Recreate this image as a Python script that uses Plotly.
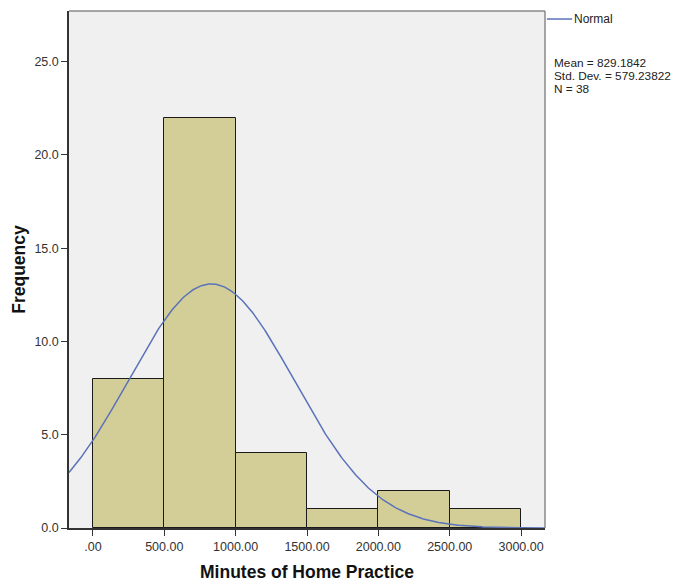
import numpy as np
import plotly.graph_objects as go

# Data
bin_starts = [0, 500, 1000, 1500, 2000, 2500]
bin_width = 500
counts = [8, 22, 4, 1, 2, 1]
mean = 829.1842
std_dev = 579.23822
n_obs = 38
x_tickvals = [0, 500, 1000, 1500, 2000, 2500, 3000]
x_ticktext = [".00", "500.00", "1000.00", "1500.00", "2000.00", "2500.00", "3000.00"]
y_tickvals = [0, 5, 10, 15, 20, 25]
y_ticktext = ["0.0", "5.0", "10.0", "15.0", "20.0", "25.0"]

x_range = [-167.5, 3167.5]
y_range = [0, 27.72]

centers = [s + bin_width / 2 for s in bin_starts]

# Fitted normal curve (scaled to frequency) from the stated mean / SD / N
xs = np.linspace(x_range[0], x_range[1], 400)
pdf = np.exp(-0.5 * ((xs - mean) / std_dev) ** 2) / (std_dev * np.sqrt(2 * np.pi))
ys = n_obs * bin_width * pdf

fig = go.Figure()
fig.add_trace(go.Bar(
    x=centers, y=counts, width=bin_width,
    marker=dict(color="#D3CE97", line=dict(color="#1a1a1a", width=1)),
    showlegend=False,
))
fig.add_trace(go.Scatter(
    x=xs, y=ys, mode="lines",
    line=dict(color="#5B72BA", width=1.5),
    showlegend=False, name="Normal",
))

font_family = "Liberation Sans, Arial, sans-serif"

fig.update_layout(
    width=675, height=578,
    margin=dict(l=61, r=138, t=3, b=58),
    paper_bgcolor="white",
    plot_bgcolor="#F0F0F0",
    font=dict(family=font_family, size=13, color="#333333"),
    bargap=0,
    xaxis=dict(
        range=x_range, tickvals=x_tickvals, ticktext=x_ticktext,
        ticks="outside", ticklen=6, tickcolor="#333333", tickwidth=1,
        showgrid=False, zeroline=False,
        showline=True, linecolor="#333333", linewidth=1.5,
        title=dict(text="<b>Minutes of Home Practice</b>",
                   font=dict(size=17.5, color="#111111"), standoff=13),
        tickfont=dict(size=12.5, color="#333333"),
    ),
    yaxis=dict(
        range=y_range, tickvals=y_tickvals, ticktext=y_ticktext,
        ticks="outside", ticklen=6, tickcolor="#333333", tickwidth=1,
        showgrid=False, zeroline=False,
        showline=True, linecolor="#333333", linewidth=1.5,
        title=dict(text="<b>Frequency</b>",
                   font=dict(size=17.5, color="#111111"), standoff=4),
        tickfont=dict(size=12.5, color="#333333"),
    ),
)

# Top and right frame of the plot area
fig.add_shape(type="line", xref="paper", yref="paper", x0=0, x1=1, y0=1, y1=1,
              line=dict(color="#8a8a8a", width=1.5))
fig.add_shape(type="line", xref="paper", yref="paper", x0=1, x1=1, y0=0, y1=1,
              line=dict(color="#8a8a8a", width=1.5))

# Legend (Normal)
fig.add_shape(type="line", xref="paper", yref="paper", x0=1.004, x1=1.057,
              y0=0.9845, y1=0.9845, line=dict(color="#5B72BA", width=1.5))
fig.add_annotation(xref="paper", yref="paper", x=1.057, y=0.9845,
                   xanchor="left", yanchor="middle", showarrow=False,
                   text="Normal", font=dict(size=12, color="#222222"))

stat_lines = [f"Mean = {mean}", f"Std. Dev. = {std_dev}", f"N = {n_obs}"]
stat_y = [0.8994, 0.8743, 0.8491]
for txt, yy in zip(stat_lines, stat_y):
    fig.add_annotation(xref="paper", yref="paper", x=1.015, y=yy,
                       xanchor="left", yanchor="middle", showarrow=False,
                       text=txt, font=dict(size=11.8, color="#222222"))

fig.write_html("out.html")
